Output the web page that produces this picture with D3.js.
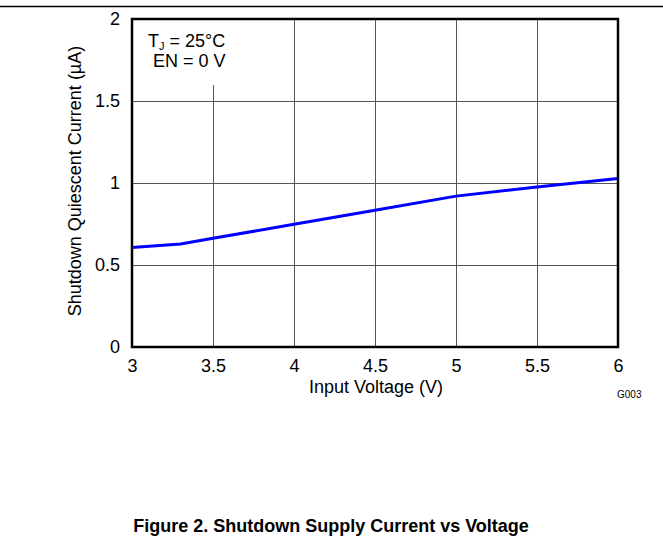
<!DOCTYPE html>
<html>
<head>
<meta charset="utf-8">
<script src="https://cdn.jsdelivr.net/npm/d3@7"></script>
<style>
  body { margin: 0; background: #fff; }
  svg { display: block; font-family: Arial, "Liberation Sans", sans-serif; }
</style>
</head>
<body>
<div id="chart"></div>
<script>
// data
const inputVoltage = [3, 3.3, 3.5, 4, 4.5, 5, 5.5, 6];
const shutdownCurrent = [0.607, 0.628, 0.663, 0.748, 0.834, 0.92, 0.975, 1.027];
const xTicks = [3, 3.5, 4, 4.5, 5, 5.5, 6];
const yTicks = [0, 0.5, 1, 1.5, 2];

const width = 663, height = 542;
const margin = { top: 19, right: 45, bottom: 195, left: 132 };
const plotW = width - margin.left - margin.right,
    plotH = height - margin.top - margin.bottom;
const fontSize = 18;

const svg = d3.select('#chart').append('svg')
    .attr('width', width)
    .attr('height', height);

// rule across the top of the page
svg.append('line')
    .attr('x1', 0).attr('x2', width)
    .attr('y1', 6.5).attr('y2', 6.5)
    .attr('stroke', '#000')
    .attr('stroke-width', 1.5);

const g = svg.append('g')
    .attr('transform', `translate(${margin.left},${margin.top})`);

const x = d3.scaleLinear().domain([3, 6]).range([0, plotW]);
const y = d3.scaleLinear().domain([0, 2]).range([plotH, 0]);

// grid
const xGrid = g.append('g')
    .attr('transform', `translate(0,${plotH})`)
    .call(d3.axisBottom(x).tickValues(xTicks).tickSize(-plotH).tickFormat(''));
const yGrid = g.append('g')
    .call(d3.axisLeft(y).tickValues(yTicks).tickSize(-plotW).tickFormat(''));
[xGrid, yGrid].forEach(ax => {
    ax.select('.domain').remove();
    ax.selectAll('line').attr('stroke', '#555').attr('stroke-width', 1);
});

// white box behind the conditions text
g.append('rect')
    .attr('x', 0).attr('y', 0)
    .attr('width', 128).attr('height', 66)
    .attr('fill', '#fff');

const note = g.append('text')
    .attr('font-size', fontSize)
    .attr('fill', '#000');
const t1 = note.append('tspan').attr('x', 16).attr('y', 28);
t1.append('tspan').text('T');
t1.append('tspan').attr('font-size', 11).attr('dy', 3).text('J');
t1.append('tspan').attr('dy', -3).text(' = 25°C');
note.append('tspan').attr('x', 21).attr('y', 48).text('EN = 0 V');

// data line
const line = d3.line()
    .x((d, i) => x(inputVoltage[i]))
    .y(d => y(d));

g.append('path')
    .datum(shutdownCurrent)
    .attr('d', line)
    .attr('fill', 'none')
    .attr('stroke', '#0000ff')
    .attr('stroke-width', 3);

// border
g.append('rect')
    .attr('width', plotW).attr('height', plotH)
    .attr('fill', 'none')
    .attr('stroke', '#000')
    .attr('stroke-width', 2.5);

// tick labels
const xAxis = g.append('g')
    .attr('transform', `translate(0,${plotH})`)
    .call(d3.axisBottom(x).tickValues(xTicks).tickSize(0).tickPadding(12).tickFormat(d3.format('')));
const yAxis = g.append('g')
    .call(d3.axisLeft(y).tickValues(yTicks).tickSize(0).tickPadding(12).tickFormat(d3.format('')));
[xAxis, yAxis].forEach(ax => {
    ax.select('.domain').remove();
    ax.selectAll('text')
        .attr('font-family', 'Arial, "Liberation Sans", sans-serif')
        .attr('font-size', fontSize)
        .attr('fill', '#000');
});

// axis titles
g.append('text')
    .attr('x', plotW / 2 + 1).attr('y', plotH + 46)
    .attr('text-anchor', 'middle')
    .attr('font-size', fontSize)
    .text('Input Voltage (V)');

g.append('text')
    .attr('transform', `translate(-51,${plotH / 2 - 2}) rotate(-90)`)
    .attr('text-anchor', 'middle')
    .attr('font-size', fontSize)
    .text('Shutdown Quiescent Current (µA)');

svg.append('text')
    .attr('x', 617).attr('y', 398)
    .attr('font-size', 10)
    .text('G003');

svg.append('text')
    .attr('x', 331).attr('y', 532)
    .attr('text-anchor', 'middle')
    .attr('font-size', 18)
    .attr('font-weight', 'bold')
    .text('Figure 2. Shutdown Supply Current vs Voltage');
</script>
</body>
</html>
